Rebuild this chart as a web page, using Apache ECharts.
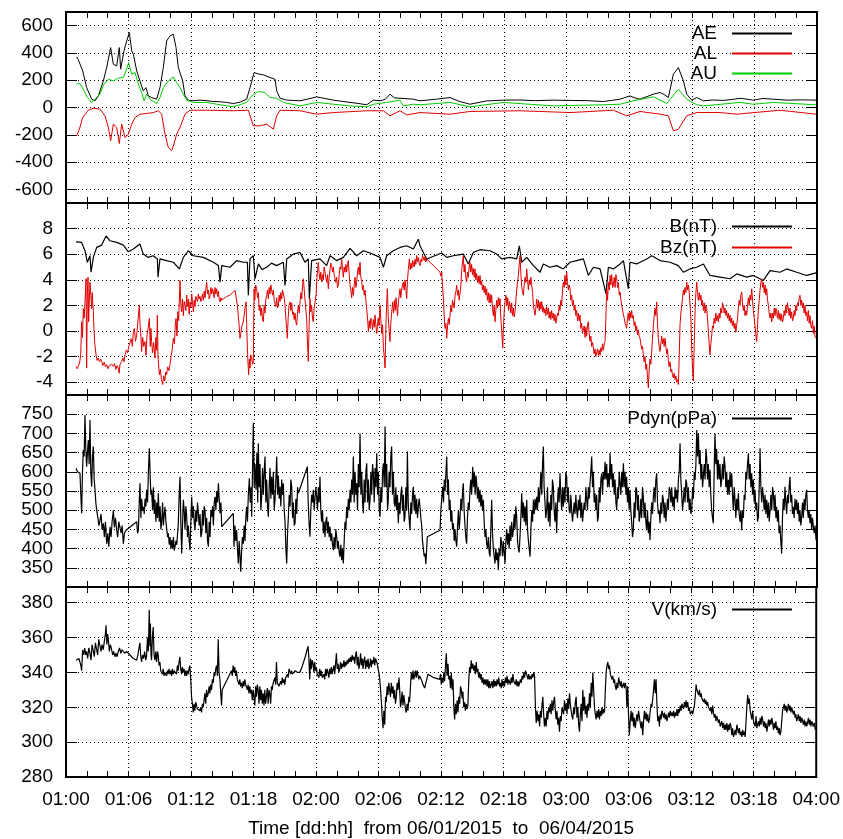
<!DOCTYPE html>
<html><head><meta charset="utf-8">
<script src="https://cdn.jsdelivr.net/npm/echarts@6/dist/echarts.min.js"></script>
<style>html,body{margin:0;padding:0;background:#fff}#c{width:843px;height:839px}</style>
</head><body><div id="c"></div><script>
// time in hours since 06/01/2015 01:00 (dd:hh = 01:00)
const xTickLabels = ['01:00','01:06','01:12','01:18','02:00','02:06','02:12','02:18','03:00','03:06','03:12','03:18','04:00'];
const aeTicks = [-600,-400,-200,0,200,400,600];
const bTicks = [-4,-2,0,2,4,6,8];
const pTicks = [350,400,450,500,550,600,650,700,750];
const vTicks = [280,300,320,340,360,380];

const AE = [[1.02,371],[1.18,350],[1.34,342],[1.60,268],[1.98,146],[2.46,61],[2.78,49],[3.10,85],[3.58,195],[3.90,293],[4.28,439],[4.54,317],[4.86,305],[5.11,439],[5.24,281],[5.56,415],[5.82,488],[6.07,549],[6.30,415],[6.46,390],[6.78,268],[7.09,195],[7.41,122],[7.67,146],[7.89,85],[8.21,73],[8.69,61],[9.01,146],[9.33,293],[9.65,488],[9.97,525],[10.29,537],[10.55,439],[10.77,293],[10.93,281],[11.19,195],[11.41,85],[11.73,54],[12.05,49],[12.85,54],[13.50,50],[14.13,44],[14.80,42],[15.40,37],[16.04,29],[16.70,40],[17.32,61],[17.64,146],[18.03,256],[18.50,245],[18.92,239],[19.56,220],[20.04,207],[20.20,122],[20.52,68],[21.16,54],[21.80,52],[22.44,49],[23.20,62],[24.03,78],[24.67,68],[25.63,54],[26.40,46],[27.23,37],[28.00,30],[28.83,20],[29.47,54],[30.11,49],[30.60,60],[31.06,98],[31.50,70],[32.02,68],[32.70,64],[33.30,61],[33.94,49],[35.40,60],[36.82,73],[37.70,45],[38.73,24],[40.30,48],[41.93,54],[43.50,55],[45.00,50],[46.72,54],[48.30,52],[50.00,50],[51.52,44],[52.30,52],[53.12,61],[54.07,85],[54.55,70],[55.03,61],[55.70,80],[56.31,98],[56.95,110],[57.35,95],[57.75,73],[58.23,244],[58.71,293],[59.19,195],[59.51,98],[59.99,54],[60.47,73],[61.11,49],[62.00,55],[63.00,52],[64.00,60],[64.62,68],[65.90,54],[66.80,66],[67.82,61],[69.09,54],[70.50,56],[71.91,54]];
const AL = [[1.02,-207],[1.28,-159],[1.60,-73],[2.14,-20],[2.62,-5],[3.26,-12],[3.74,-61],[4.06,-146],[4.28,-244],[4.54,-122],[4.86,-146],[5.11,-264],[5.34,-122],[5.66,-220],[5.98,-195],[6.30,-122],[6.62,-73],[7.09,-49],[7.73,-44],[8.37,-37],[8.85,-24],[9.17,-49],[9.49,-195],[9.81,-293],[10.13,-317],[10.35,-268],[10.61,-195],[10.93,-146],[11.41,-49],[11.89,-20],[13.49,-20],[16.04,-24],[17.48,-20],[17.96,-134],[18.60,-134],[19.24,-122],[19.88,-159],[20.20,-61],[20.52,-20],[22.44,-24],[24.03,-49],[25.63,-37],[28.83,-24],[30.43,-24],[31.06,-61],[32.02,-24],[32.66,-54],[33.94,-37],[36.82,-49],[38.73,-29],[43.53,-24],[48.32,-37],[52.48,-20],[53.75,-61],[55.03,-29],[56.95,-49],[57.75,-61],[58.23,-171],[58.71,-159],[59.51,-61],[60.47,-37],[62.70,-37],[64.30,-49],[68.45,-20],[71.91,-49]];
const AU = [[1.02,171],[1.34,176],[1.66,134],[2.05,73],[2.46,37],[2.94,73],[3.26,98],[3.64,171],[4.06,207],[4.54,195],[5.02,215],[5.50,220],[5.75,268],[6.01,329],[6.30,244],[6.62,256],[6.94,171],[7.25,110],[7.48,49],[7.73,98],[8.05,61],[8.69,29],[9.01,73],[9.33,146],[9.81,195],[10.29,224],[10.61,183],[10.93,146],[11.25,98],[11.57,54],[12.21,37],[13.49,37],[14.77,20],[16.04,5],[17.32,37],[17.80,85],[18.44,117],[19.08,110],[19.56,73],[20.20,68],[20.84,37],[22.44,12],[24.03,37],[25.63,24],[27.23,12],[28.83,5],[29.47,24],[30.74,37],[32.02,54],[32.34,12],[33.30,24],[33.94,20],[36.82,37],[38.73,5],[41.93,37],[46.72,12],[51.52,20],[53.12,24],[54.39,49],[56.31,78],[57.59,29],[58.71,134],[59.51,61],[60.47,20],[61.11,12],[64.62,37],[65.90,24],[67.82,37],[71.91,20]];

const B = [[0.96,6.97],[1.50,6.92],[1.82,6.27],[2.05,5.37],[2.30,5.88],[2.40,4.59],[2.62,5.75],[2.94,6.53],[3.42,6.71],[3.84,7.43],[4.22,7.05],[4.86,6.92],[5.50,6.71],[5.98,6.19],[6.46,6.40],[7.09,6.79],[7.41,6.01],[7.89,5.75],[8.37,5.88],[8.76,5.63],[8.82,4.21],[9.01,5.63],[9.65,5.50],[10.29,5.37],[10.87,4.85],[11.25,5.75],[11.73,6.27],[12.21,5.88],[13.17,5.75],[14.13,5.37],[14.61,5.11],[14.77,3.82],[14.93,5.11],[15.72,4.98],[16.36,5.50],[17.00,5.37],[17.39,5.37],[17.48,2.79],[17.64,5.63],[17.96,5.88],[18.12,4.08],[18.44,5.24],[18.80,4.80],[19.24,4.98],[19.70,5.30],[20.20,5.11],[20.84,5.37],[21.00,3.56],[21.16,5.63],[21.80,6.01],[22.44,6.14],[22.91,5.37],[23.23,5.63],[23.33,2.53],[23.55,5.50],[24.35,5.63],[24.99,5.11],[25.31,5.88],[25.95,5.50],[26.59,5.75],[27.23,6.45],[27.87,5.88],[28.51,6.27],[29.15,6.09],[30.11,5.75],[30.43,4.98],[30.74,5.88],[31.38,6.27],[32.02,6.53],[32.66,6.66],[33.30,6.40],[33.78,7.17],[33.94,6.66],[34.42,5.88],[34.58,5.63],[36.02,6.09],[36.50,5.75],[37.14,5.88],[38.09,6.01],[38.57,5.24],[39.05,6.14],[39.69,6.35],[40.65,6.27],[41.29,6.01],[41.77,5.63],[42.57,5.75],[43.21,5.63],[43.46,6.66],[43.69,5.37],[44.17,5.75],[44.81,5.11],[45.45,4.59],[45.76,5.24],[46.40,4.98],[47.04,5.11],[47.68,4.85],[48.32,5.37],[48.96,5.50],[49.60,5.63],[50.08,4.34],[50.56,4.98],[51.20,4.85],[51.77,2.92],[52.00,4.98],[52.48,4.85],[53.12,5.24],[53.44,5.50],[53.91,3.30],[54.07,5.37],[54.71,5.24],[55.67,5.63],[56.15,5.88],[56.95,5.50],[57.91,5.37],[58.71,5.11],[59.19,4.59],[59.83,4.85],[60.47,4.98],[61.11,5.24],[61.74,4.34],[62.70,4.21],[63.66,4.08],[64.30,4.46],[65.26,4.21],[65.90,4.34],[66.86,3.95],[67.50,4.72],[68.45,4.59],[69.09,4.85],[70.05,4.59],[71.01,4.34],[71.91,4.54]];

const BZ = [[0.96,-2.76],[1.08,-2.95],[1.18,-2.89],[1.30,-2.50],[1.41,-1.86],[1.50,0.72],[1.58,-0.50],[1.66,1.75],[1.74,1.00],[1.82,2.27],[1.92,4.08],[1.98,-2.90],[2.05,3.05],[2.11,4.20],[2.17,0.72],[2.24,2.50],[2.30,3.82],[2.38,2.80],[2.46,1.75],[2.52,3.00],[2.56,2.27],[2.62,1.50],[2.68,0.21],[2.76,-1.00],[2.88,-1.86],[2.98,-2.30],[3.10,-2.12],[3.22,-2.40],[3.32,-2.20],[3.42,-2.37],[3.54,-2.70],[3.66,-2.45],[3.78,-2.80],[3.90,-2.63],[4.02,-2.95],[4.14,-2.70],[4.26,-2.85],[4.38,-2.60],[4.54,-2.76],[4.66,-2.55],[4.78,-3.00],[4.90,-2.70],[5.02,-2.89],[5.10,-3.30],[5.18,-2.60],[5.34,-2.37],[5.46,-2.10],[5.56,-2.40],[5.66,-1.86],[5.78,-1.50],[5.90,-1.70],[6.02,-1.20],[6.14,-1.08],[6.26,-0.60],[6.36,-1.20],[6.46,-0.05],[6.56,0.20],[6.66,-0.80],[6.78,-0.31],[6.90,0.80],[7.03,2.01],[7.10,0.50],[7.18,-0.40],[7.25,-1.60],[7.35,-0.50],[7.45,-1.20],[7.57,-0.83],[7.67,-1.90],[7.77,-0.30],[7.89,0.30],[7.99,0.98],[8.08,-1.20],[8.14,0.20],[8.21,-0.83],[8.30,-1.70],[8.40,-0.90],[8.53,-2.12],[8.62,-0.50],[8.70,-1.50],[8.76,1.24],[8.82,-2.00],[8.95,-3.41],[9.05,-3.00],[9.15,-3.80],[9.27,-4.18],[9.37,-3.50],[9.47,-3.90],[9.57,-3.20],[9.65,-3.41],[9.75,-2.80],[9.87,-3.10],[9.97,-2.63],[10.07,-2.00],[10.17,-1.50],[10.29,-0.57],[10.40,-1.00],[10.47,0.40],[10.55,0.98],[10.64,-0.40],[10.72,1.50],[10.80,0.80],[10.87,2.50],[10.93,3.95],[11.01,2.00],[11.09,1.50],[11.17,2.50],[11.25,1.20],[11.33,2.30],[11.41,2.01],[11.49,1.60],[11.57,2.80],[11.65,1.90],[11.73,2.50],[11.81,1.30],[11.89,2.27],[11.97,1.80],[12.05,2.90],[12.13,2.20],[12.21,1.50],[12.29,2.40],[12.37,1.90],[12.45,2.70],[12.53,2.79],[12.61,2.30],[12.69,2.90],[12.77,2.50],[12.85,2.70],[12.93,2.30],[13.01,2.53],[13.09,2.90],[13.17,2.40],[13.25,3.10],[13.33,2.60],[13.41,3.30],[13.49,3.82],[13.57,2.90],[13.65,3.20],[13.73,2.50],[13.81,2.79],[13.89,3.40],[13.97,2.90],[14.05,3.30],[14.13,3.05],[14.21,2.60],[14.29,3.40],[14.37,2.90],[14.45,3.30],[14.53,2.70],[14.61,3.10],[14.69,2.50],[14.77,2.27],[14.85,2.60],[14.93,2.40],[15.08,2.53],[15.40,2.70],[15.72,2.79],[15.96,3.00],[16.20,3.17],[16.32,2.60],[16.43,2.01],[16.52,1.20],[16.60,0.40],[16.68,-0.57],[16.76,-0.20],[16.84,0.30],[17.00,0.72],[17.10,1.40],[17.18,1.90],[17.26,2.27],[17.32,0.50],[17.39,-1.34],[17.45,-2.50],[17.51,-3.41],[17.58,-2.20],[17.64,-2.90],[17.71,-1.86],[17.80,-2.10],[17.89,-2.60],[17.96,-2.37],[18.03,3.30],[18.10,2.40],[18.18,3.60],[18.28,3.30],[18.36,2.60],[18.44,3.00],[18.52,1.60],[18.60,2.01],[18.68,1.20],[18.76,1.80],[18.84,0.90],[18.92,0.72],[19.00,2.00],[19.08,1.40],[19.16,2.50],[19.24,2.79],[19.32,3.20],[19.40,2.50],[19.48,3.40],[19.56,2.90],[19.64,3.60],[19.72,3.56],[19.80,2.80],[19.88,3.20],[19.96,2.40],[20.04,2.53],[20.12,1.90],[20.20,2.60],[20.28,1.80],[20.36,2.01],[20.44,2.80],[20.52,2.30],[20.60,3.00],[20.68,2.50],[20.76,3.20],[20.84,3.30],[20.92,2.60],[21.00,2.01],[21.08,1.00],[21.15,0.20],[21.22,-0.57],[21.30,1.00],[21.38,2.00],[21.48,2.27],[21.56,1.60],[21.64,2.20],[21.72,1.30],[21.80,1.50],[21.88,0.90],[21.96,1.40],[22.04,0.70],[22.12,0.46],[22.20,1.50],[22.28,2.00],[22.36,1.40],[22.44,2.27],[22.52,3.00],[22.60,2.50],[22.68,3.60],[22.76,4.08],[22.84,3.20],[22.92,2.40],[23.00,1.60],[23.07,0.98],[23.15,-0.80],[23.23,-2.37],[23.31,0.50],[23.39,2.53],[23.47,1.50],[23.55,2.00],[23.63,1.00],[23.71,0.72],[23.79,1.80],[23.87,2.20],[23.97,2.79],[24.05,4.00],[24.12,4.80],[24.19,5.37],[24.27,4.50],[24.35,4.00],[24.43,4.60],[24.51,3.82],[24.59,4.40],[24.67,4.00],[24.75,5.00],[24.83,4.85],[24.91,4.20],[24.99,3.80],[25.07,4.40],[25.15,3.30],[25.23,4.20],[25.31,4.80],[25.39,5.30],[25.47,5.11],[25.55,4.60],[25.63,5.00],[25.71,4.40],[25.79,4.34],[25.87,3.80],[25.95,4.20],[26.03,3.40],[26.11,3.56],[26.19,4.40],[26.27,5.00],[26.35,4.80],[26.43,5.63],[26.51,4.80],[26.59,4.20],[26.67,5.00],[26.75,4.59],[26.83,5.20],[26.91,4.60],[26.99,5.20],[27.07,5.50],[27.15,4.40],[27.23,3.60],[27.31,3.20],[27.39,2.60],[27.47,3.40],[27.55,2.79],[27.63,3.60],[27.71,4.20],[27.79,3.40],[27.87,3.82],[27.95,4.60],[28.03,5.00],[28.11,4.40],[28.19,5.37],[28.27,4.20],[28.35,3.90],[28.43,3.20],[28.51,3.56],[28.59,2.80],[28.67,3.20],[28.75,2.40],[28.83,2.53],[28.91,1.00],[28.99,-0.05],[29.07,0.80],[29.15,0.20],[29.23,1.00],[29.31,0.72],[29.39,0.10],[29.47,0.90],[29.55,0.30],[29.63,1.24],[29.71,0.40],[29.79,-0.20],[29.85,-0.31],[29.93,1.00],[30.01,0.40],[30.11,2.01],[30.19,0.80],[30.27,-0.20],[30.35,0.50],[30.43,-1.34],[30.51,-2.00],[30.59,-2.89],[30.67,0.50],[30.74,2.00],[30.81,3.30],[30.89,1.20],[30.97,0.20],[31.06,-0.83],[31.14,0.60],[31.22,1.40],[31.32,2.27],[31.40,1.40],[31.48,2.40],[31.56,1.60],[31.64,2.60],[31.70,2.01],[31.78,1.20],[31.86,2.20],[31.94,2.80],[32.02,3.30],[32.10,2.60],[32.18,3.20],[32.26,3.60],[32.34,3.82],[32.42,3.20],[32.50,4.00],[32.58,3.40],[32.66,2.53],[32.74,4.00],[32.82,4.80],[32.92,5.63],[33.00,4.80],[33.08,5.30],[33.16,4.90],[33.24,5.50],[33.30,5.37],[33.38,5.00],[33.46,5.60],[33.54,5.20],[33.62,5.90],[33.70,5.40],[33.78,5.75],[33.86,5.30],[33.94,5.11],[34.02,5.60],[34.10,5.40],[34.18,5.90],[34.26,5.88],[34.34,5.50],[34.42,5.80],[34.50,5.40],[34.58,5.63],[35.86,4.59],[35.94,4.30],[36.02,4.59],[36.10,3.50],[36.18,2.53],[36.26,1.20],[36.34,0.20],[36.42,0.60],[36.50,-0.57],[36.58,0.40],[36.66,1.00],[36.74,0.50],[36.82,1.24],[36.90,2.00],[36.98,1.50],[37.06,2.40],[37.14,2.27],[37.22,1.80],[37.30,2.80],[37.38,3.10],[37.46,3.56],[37.54,2.80],[37.62,3.20],[37.70,2.40],[37.78,2.53],[37.86,3.60],[37.94,4.80],[38.02,5.40],[38.09,5.88],[38.17,4.60],[38.25,5.20],[38.33,4.20],[38.41,3.82],[38.49,4.60],[38.57,4.20],[38.65,5.00],[38.73,5.37],[38.81,4.60],[38.89,5.20],[38.97,4.40],[39.05,4.90],[39.13,4.20],[39.21,4.85],[39.29,4.00],[39.37,4.50],[39.45,3.80],[39.53,4.30],[39.61,3.70],[39.69,4.34],[39.77,3.60],[39.85,3.90],[39.93,3.20],[40.01,3.60],[40.09,3.00],[40.17,3.50],[40.25,2.80],[40.33,3.30],[40.41,2.40],[40.49,3.00],[40.57,2.20],[40.65,2.90],[40.73,2.20],[40.81,2.79],[40.89,1.80],[40.97,1.20],[41.05,2.00],[41.13,0.72],[41.21,1.60],[41.29,2.40],[41.37,1.80],[41.45,2.60],[41.53,2.00],[41.61,2.53],[41.69,1.00],[41.77,0.00],[41.87,-1.34],[41.95,0.50],[42.03,1.80],[42.11,2.40],[42.19,2.79],[42.27,2.00],[42.35,2.60],[42.43,1.60],[42.51,2.30],[42.57,2.01],[42.65,1.40],[42.73,2.20],[42.81,1.20],[42.89,1.80],[42.97,1.10],[43.05,1.50],[43.13,2.40],[43.21,3.20],[43.29,3.90],[43.37,4.34],[43.45,5.20],[43.53,5.88],[43.61,4.40],[43.69,3.50],[43.77,3.00],[43.85,2.79],[43.93,3.60],[44.01,4.20],[44.09,3.80],[44.17,4.85],[44.25,4.00],[44.33,3.20],[44.41,4.00],[44.49,3.60],[44.57,4.20],[44.65,4.34],[44.73,3.00],[44.81,2.00],[44.89,1.60],[44.97,1.24],[45.05,1.80],[45.13,2.50],[45.21,1.80],[45.29,2.40],[45.37,1.60],[45.45,2.27],[45.53,1.70],[45.61,2.30],[45.69,1.50],[45.76,1.90],[45.84,1.40],[45.92,1.75],[46.00,1.20],[46.08,1.90],[46.16,1.30],[46.24,1.80],[46.32,1.00],[46.40,1.50],[46.48,0.90],[46.56,1.60],[46.64,1.00],[46.72,1.40],[46.80,0.80],[46.88,1.30],[46.96,0.60],[47.04,0.72],[47.12,1.40],[47.20,1.20],[47.28,2.00],[47.36,1.60],[47.44,2.40],[47.52,2.01],[47.60,3.20],[47.68,3.80],[47.76,3.40],[47.84,4.34],[47.92,3.60],[48.00,4.60],[48.08,3.80],[48.16,3.20],[48.24,3.60],[48.32,3.30],[48.40,2.40],[48.48,2.80],[48.56,2.00],[48.64,2.40],[48.72,1.60],[48.80,2.01],[48.88,1.20],[48.96,1.60],[49.04,0.80],[49.12,1.40],[49.20,0.80],[49.28,1.24],[49.36,0.20],[49.44,0.60],[49.52,-0.20],[49.60,-0.31],[49.68,0.40],[49.76,-0.50],[49.84,0.30],[49.92,-0.40],[50.00,0.50],[50.08,0.72],[50.16,-0.20],[50.24,-0.80],[50.32,-0.40],[50.40,-1.20],[50.48,-0.90],[50.56,-1.34],[50.64,-1.80],[50.72,-1.40],[50.80,-2.00],[50.88,-1.86],[50.96,-1.40],[51.04,-1.90],[51.12,-1.50],[51.20,-1.90],[51.28,-1.30],[51.36,-1.60],[51.44,-1.00],[51.52,-1.50],[51.60,-1.00],[51.68,-0.83],[51.76,1.00],[51.84,3.30],[51.92,2.40],[52.00,3.80],[52.08,3.20],[52.16,4.34],[52.24,3.60],[52.32,4.40],[52.40,3.40],[52.48,3.56],[52.56,4.20],[52.64,3.40],[52.72,4.40],[52.80,4.08],[52.88,3.40],[52.96,3.80],[53.04,2.80],[53.12,3.05],[53.20,2.40],[53.28,2.00],[53.36,1.60],[53.44,1.75],[53.52,1.00],[53.60,0.60],[53.68,0.40],[53.75,0.21],[53.83,1.00],[53.91,1.40],[53.99,0.80],[54.07,1.50],[54.15,1.00],[54.23,1.60],[54.31,1.00],[54.39,1.20],[54.47,0.40],[54.55,0.72],[54.63,0.00],[54.71,0.40],[54.79,-0.30],[54.87,0.10],[54.95,-0.40],[55.03,-0.57],[55.11,-1.00],[55.19,-1.40],[55.27,-1.20],[55.35,-1.86],[55.43,-2.40],[55.51,-2.00],[55.59,-3.00],[55.67,-2.60],[55.75,-3.60],[55.83,-4.44],[55.91,-3.00],[55.99,-2.20],[56.07,-2.60],[56.15,-1.60],[56.23,-0.60],[56.31,0.40],[56.39,1.20],[56.47,1.80],[56.55,1.20],[56.63,2.27],[56.71,0.60],[56.79,-0.60],[56.87,-1.20],[56.95,-1.60],[57.03,-1.00],[57.11,-0.40],[57.19,-1.00],[57.27,-0.60],[57.35,-1.20],[57.43,-0.57],[57.51,-1.20],[57.59,-1.80],[57.67,-1.40],[57.75,-2.37],[57.83,-2.80],[57.91,-2.40],[57.99,-3.20],[58.07,-3.00],[58.15,-3.50],[58.23,-3.66],[58.31,-3.30],[58.39,-3.80],[58.47,-3.50],[58.55,-4.00],[58.63,-3.80],[58.71,-4.18],[58.79,-2.00],[58.87,0.50],[58.95,1.40],[59.03,2.01],[59.11,2.60],[59.19,3.20],[59.27,2.80],[59.35,3.40],[59.43,3.00],[59.51,3.82],[59.59,3.20],[59.67,3.60],[59.75,3.00],[59.83,3.05],[59.91,1.00],[59.99,-1.50],[60.07,-3.00],[60.15,-3.92],[60.23,-1.00],[60.31,1.50],[60.39,3.00],[60.47,3.82],[60.55,3.00],[60.63,2.40],[60.71,3.00],[60.79,2.40],[60.87,2.80],[60.95,2.01],[61.03,2.40],[61.11,1.60],[61.19,2.20],[61.27,1.40],[61.35,2.00],[61.42,1.75],[61.50,1.00],[61.58,0.00],[61.66,-1.00],[61.74,-1.86],[61.82,-1.00],[61.90,-0.40],[61.98,0.40],[62.06,0.21],[62.14,1.00],[62.22,0.60],[62.30,1.40],[62.38,0.80],[62.46,1.20],[62.54,0.72],[62.62,1.40],[62.70,1.00],[62.78,1.80],[62.86,1.40],[62.94,2.20],[63.02,2.01],[63.10,1.40],[63.18,1.80],[63.26,1.20],[63.34,1.60],[63.42,1.00],[63.50,1.40],[63.58,0.80],[63.66,1.24],[63.74,0.60],[63.82,1.00],[63.90,0.40],[63.98,0.80],[64.06,0.20],[64.14,0.60],[64.22,-0.10],[64.30,-0.05],[64.38,1.00],[64.46,1.80],[64.54,2.40],[64.62,2.00],[64.70,2.80],[64.78,3.05],[64.86,2.20],[64.94,1.60],[65.02,2.00],[65.10,1.20],[65.18,1.60],[65.26,1.24],[65.34,2.00],[65.42,2.60],[65.50,2.00],[65.58,2.80],[65.66,2.40],[65.74,3.30],[65.82,2.40],[65.90,1.60],[65.98,1.00],[66.06,0.40],[66.14,-0.40],[66.22,-0.83],[66.30,0.50],[66.38,1.60],[66.46,2.40],[66.54,3.20],[66.62,3.80],[66.70,4.08],[66.78,3.40],[66.86,3.80],[66.94,3.00],[67.02,3.60],[67.10,2.80],[67.18,3.30],[67.26,2.40],[67.34,2.00],[67.42,1.40],[67.50,1.00],[67.58,1.40],[67.66,0.72],[67.74,1.40],[67.82,1.00],[67.90,1.80],[67.98,1.20],[68.06,1.80],[68.13,1.50],[68.21,1.00],[68.29,1.60],[68.37,0.90],[68.45,1.40],[68.53,0.80],[68.61,1.30],[68.69,0.70],[68.77,0.98],[68.85,1.60],[68.93,1.20],[69.01,2.00],[69.09,1.40],[69.17,2.20],[69.25,1.75],[69.33,1.20],[69.41,1.80],[69.49,1.00],[69.57,1.50],[69.65,0.80],[69.73,0.98],[69.81,1.60],[69.89,1.20],[69.97,2.00],[70.05,1.60],[70.13,2.20],[70.21,2.00],[70.29,2.60],[70.37,2.79],[70.45,2.00],[70.53,2.40],[70.61,1.80],[70.69,2.20],[70.77,1.40],[70.85,2.00],[70.93,1.20],[71.01,1.50],[71.09,0.80],[71.17,1.60],[71.25,0.60],[71.33,1.20],[71.41,0.40],[71.49,0.21],[71.57,0.80],[71.65,-0.20],[71.73,0.40],[71.81,-0.40],[71.91,-0.57]];

const PDYN = [[0.96,609],[1.10,600],[1.25,598],[1.34,596],[1.42,540],[1.50,492],[1.58,600],[1.66,657],[1.74,640],[1.82,748],[1.90,660],[1.98,613],[2.06,650],[2.14,683],[2.22,620],[2.30,735],[2.38,600],[2.46,561],[2.54,640],[2.62,666],[2.70,580],[2.78,553],[2.86,520],[2.94,500],[3.06,480],[3.16,460],[3.26,474],[3.36,490],[3.46,450],[3.58,466],[3.68,430],[3.78,470],[3.90,413],[4.00,440],[4.10,405],[4.22,457],[4.32,430],[4.42,470],[4.54,500],[4.64,455],[4.74,480],[4.86,448],[4.96,430],[5.06,470],[5.18,474],[5.28,440],[5.38,460],[5.50,413],[5.60,440],[5.75,448],[6.78,470],[6.86,440],[6.94,448],[7.02,520],[7.09,570],[7.18,480],[7.26,530],[7.34,500],[7.41,509],[7.50,490],[7.58,530],[7.66,510],[7.73,553],[7.82,520],[7.90,600],[7.99,661],[8.08,580],[8.14,540],[8.21,553],[8.30,500],[8.38,560],[8.46,490],[8.53,527],[8.62,470],[8.70,520],[8.78,480],[8.85,544],[8.94,470],[9.02,510],[9.10,450],[9.17,466],[9.26,520],[9.34,460],[9.42,490],[9.49,509],[9.58,470],[9.66,450],[9.74,430],[9.81,440],[9.90,410],[9.98,430],[10.06,400],[10.13,422],[10.22,400],[10.30,430],[10.38,395],[10.45,405],[10.54,420],[10.62,410],[10.70,440],[10.77,466],[10.85,540],[10.93,587],[11.01,470],[11.09,387],[11.17,460],[11.25,527],[11.33,500],[11.41,450],[11.49,510],[11.57,483],[11.65,430],[11.73,460],[11.81,420],[11.89,396],[11.97,470],[12.05,535],[12.13,480],[12.21,510],[12.29,470],[12.37,448],[12.45,500],[12.53,470],[12.61,520],[12.69,518],[12.77,460],[12.85,490],[12.93,430],[13.01,440],[13.09,500],[13.17,460],[13.25,510],[13.33,500],[13.41,440],[13.49,480],[13.57,420],[13.65,405],[13.73,470],[13.81,430],[13.89,500],[13.97,483],[14.05,510],[14.13,460],[14.21,520],[14.29,535],[14.37,500],[14.45,550],[14.53,520],[14.61,570],[14.69,530],[14.77,492],[14.85,520],[14.93,457],[16.04,492],[16.11,405],[16.20,460],[16.28,420],[16.36,448],[16.44,400],[16.52,361],[16.60,420],[16.68,380],[16.75,340],[16.83,390],[16.91,430],[17.00,413],[17.08,460],[17.16,420],[17.24,480],[17.32,509],[17.40,470],[17.48,540],[17.58,583],[17.66,520],[17.74,560],[17.80,483],[17.88,600],[17.96,727],[18.04,560],[18.12,620],[18.22,553],[18.30,650],[18.38,520],[18.44,674],[18.52,560],[18.60,620],[18.68,500],[18.76,535],[18.84,610],[18.92,540],[19.00,600],[19.08,640],[19.16,520],[19.24,580],[19.32,510],[19.40,483],[19.48,560],[19.56,610],[19.64,530],[19.72,587],[19.80,540],[19.88,600],[19.96,500],[20.04,527],[20.12,580],[20.20,640],[20.28,540],[20.36,590],[20.44,530],[20.52,561],[20.60,510],[20.68,580],[20.76,540],[20.84,570],[20.92,500],[21.00,470],[21.08,400],[21.16,361],[21.24,440],[21.32,483],[21.40,540],[21.48,510],[21.56,580],[21.64,561],[21.72,480],[21.80,520],[21.88,460],[21.96,466],[22.04,530],[22.12,490],[22.20,560],[22.28,544],[23.14,613],[23.22,520],[23.30,470],[23.39,431],[23.47,500],[23.55,540],[23.63,520],[23.71,553],[23.79,500],[23.87,530],[23.95,560],[24.03,535],[24.11,500],[24.19,560],[24.27,520],[24.35,587],[24.43,500],[24.51,470],[24.59,500],[24.67,440],[24.75,470],[24.83,430],[24.91,470],[24.99,483],[25.07,440],[25.15,470],[25.23,430],[25.31,457],[25.39,420],[25.47,440],[25.55,410],[25.63,396],[25.71,430],[25.79,400],[25.87,450],[25.95,431],[26.03,400],[26.11,420],[26.19,390],[26.27,379],[26.35,410],[26.43,370],[26.51,400],[26.59,361],[26.67,420],[26.75,470],[26.83,450],[26.91,509],[26.99,480],[27.07,530],[27.15,500],[27.23,553],[27.31,520],[27.39,580],[27.47,540],[27.55,640],[27.63,520],[27.71,600],[27.79,540],[27.87,570],[27.95,500],[28.03,620],[28.11,560],[28.19,700],[28.27,540],[28.35,600],[28.43,520],[28.51,492],[28.59,580],[28.67,520],[28.75,600],[28.83,622],[28.91,520],[28.99,580],[29.07,500],[29.15,527],[29.23,600],[29.31,540],[29.39,620],[29.47,596],[29.55,520],[29.63,610],[29.71,560],[29.79,648],[29.87,540],[29.95,600],[30.03,500],[30.11,483],[30.19,560],[30.27,520],[30.35,600],[30.43,622],[30.51,560],[30.59,718],[30.67,560],[30.75,620],[30.83,500],[30.90,527],[30.98,600],[31.06,560],[31.14,640],[31.22,666],[31.30,540],[31.38,600],[31.46,520],[31.54,509],[31.62,560],[31.70,500],[31.78,540],[31.86,466],[31.94,520],[32.02,490],[32.10,540],[32.18,561],[32.26,500],[32.34,540],[32.42,470],[32.50,483],[32.58,560],[32.66,500],[32.73,653],[32.81,520],[32.89,480],[32.98,448],[33.06,520],[33.14,490],[33.22,540],[33.30,561],[33.38,500],[33.46,540],[33.54,490],[33.62,530],[33.70,480],[33.78,509],[33.86,530],[33.94,509],[34.02,480],[34.10,460],[34.18,420],[34.26,400],[34.34,380],[34.42,387],[34.50,360],[34.58,400],[34.64,431],[35.86,448],[35.94,500],[36.02,530],[36.11,561],[36.19,520],[36.27,580],[36.35,550],[36.43,600],[36.50,640],[36.58,540],[36.66,580],[36.74,500],[36.82,527],[36.90,470],[36.98,500],[37.06,450],[37.14,466],[37.22,420],[37.30,450],[37.38,420],[37.46,405],[37.54,460],[37.62,500],[37.70,450],[37.78,483],[37.86,530],[37.94,500],[38.02,550],[38.09,570],[38.17,500],[38.25,460],[38.33,430],[38.41,413],[38.49,480],[38.57,520],[38.65,500],[38.73,553],[38.81,580],[38.89,540],[38.99,613],[39.07,560],[39.15,600],[39.23,540],[39.31,590],[39.37,570],[39.45,530],[39.53,560],[39.61,520],[39.69,553],[39.77,510],[39.85,540],[39.93,500],[40.01,527],[40.09,470],[40.17,430],[40.25,450],[40.33,413],[40.41,400],[40.49,430],[40.57,390],[40.65,379],[40.73,450],[40.81,527],[40.89,440],[40.97,400],[41.05,380],[41.13,361],[41.21,400],[41.29,370],[41.37,390],[41.45,344],[41.53,400],[41.61,380],[41.69,430],[41.77,413],[41.85,380],[41.93,420],[42.01,390],[42.09,361],[42.17,420],[42.25,450],[42.33,410],[42.41,440],[42.49,400],[42.57,460],[42.65,420],[42.73,470],[42.81,430],[42.89,448],[42.97,490],[43.05,450],[43.13,510],[43.21,483],[43.29,420],[43.37,400],[43.45,390],[43.53,387],[43.61,480],[43.69,544],[43.77,480],[43.85,520],[43.93,470],[44.01,510],[44.09,460],[44.17,527],[44.25,450],[44.33,420],[44.41,400],[44.49,379],[44.57,450],[44.65,500],[44.73,470],[44.81,527],[44.89,490],[44.97,530],[45.05,500],[45.13,535],[45.21,500],[45.29,560],[45.37,520],[45.45,553],[45.53,600],[45.61,540],[45.69,620],[45.76,666],[45.84,560],[45.92,520],[46.00,480],[46.08,500],[46.16,560],[46.24,470],[46.32,520],[46.40,457],[46.48,540],[46.56,500],[46.64,580],[46.72,561],[46.80,500],[46.88,470],[46.96,520],[47.04,440],[47.12,520],[47.20,560],[47.28,520],[47.36,596],[47.44,540],[47.52,500],[47.60,560],[47.68,509],[47.76,560],[47.84,520],[47.92,600],[48.00,587],[48.08,520],[48.16,560],[48.24,500],[48.32,492],[48.40,540],[48.48,500],[48.56,470],[48.64,474],[48.72,520],[48.80,490],[48.88,540],[48.96,500],[49.04,480],[49.12,527],[49.20,500],[49.28,540],[49.36,480],[49.44,520],[49.52,470],[49.60,466],[49.68,520],[49.76,500],[49.84,560],[49.92,527],[50.00,500],[50.08,560],[50.16,530],[50.24,570],[50.32,600],[50.40,640],[50.48,560],[50.56,600],[50.64,520],[50.72,544],[50.80,500],[50.88,540],[50.96,470],[51.04,483],[51.12,560],[51.20,520],[51.28,580],[51.36,596],[51.44,540],[51.52,600],[51.60,580],[51.68,626],[51.76,580],[51.84,620],[51.92,560],[52.00,596],[52.08,560],[52.16,648],[52.24,580],[52.32,620],[52.40,560],[52.48,596],[52.56,540],[52.64,580],[52.72,520],[52.80,500],[52.88,560],[52.96,530],[53.04,600],[53.12,570],[53.20,540],[53.28,600],[53.36,560],[53.44,622],[53.52,560],[53.60,600],[53.68,540],[53.75,587],[53.83,520],[53.91,560],[53.99,500],[54.07,553],[54.15,500],[54.23,470],[54.31,430],[54.39,448],[54.47,520],[54.55,480],[54.63,560],[54.71,553],[54.79,500],[54.87,540],[54.95,470],[55.03,483],[55.11,530],[55.19,480],[55.27,560],[55.35,535],[55.43,480],[55.51,520],[55.59,470],[55.67,448],[55.75,500],[55.83,440],[55.91,470],[55.99,422],[56.07,480],[56.15,520],[56.23,490],[56.31,535],[56.39,560],[56.47,520],[56.55,580],[56.63,596],[56.71,520],[56.79,490],[56.87,500],[56.95,466],[57.03,520],[57.11,490],[57.19,540],[57.27,527],[57.35,480],[57.43,520],[57.51,470],[57.59,474],[57.67,530],[57.75,500],[57.83,560],[57.91,553],[57.99,520],[58.07,560],[58.15,510],[58.23,535],[58.31,500],[58.39,560],[58.47,530],[58.55,553],[58.63,520],[58.71,580],[58.79,600],[58.87,674],[58.95,580],[59.03,540],[59.11,500],[59.19,527],[59.27,560],[59.35,520],[59.43,580],[59.51,570],[59.59,520],[59.67,560],[59.75,500],[59.83,530],[59.91,490],[59.99,500],[60.07,560],[60.15,530],[60.23,600],[60.31,579],[60.39,620],[60.47,709],[60.55,640],[60.63,700],[60.71,620],[60.79,657],[60.87,580],[60.95,620],[61.03,560],[61.11,561],[61.19,620],[61.27,580],[61.35,660],[61.42,640],[61.50,580],[61.58,620],[61.66,560],[61.74,605],[61.82,540],[61.90,500],[61.98,480],[62.06,466],[62.14,600],[62.22,700],[62.30,620],[62.38,660],[62.46,580],[62.54,631],[62.62,580],[62.70,620],[62.78,560],[62.86,579],[62.94,620],[63.02,580],[63.10,640],[63.18,614],[63.26,560],[63.34,600],[63.42,540],[63.50,579],[63.58,540],[63.66,600],[63.74,560],[63.82,596],[63.90,540],[63.98,500],[64.06,560],[64.14,527],[64.22,480],[64.30,530],[64.38,500],[64.46,544],[64.54,490],[64.62,470],[64.70,500],[64.78,448],[64.86,500],[64.94,480],[65.02,540],[65.10,527],[65.18,600],[65.26,580],[65.34,620],[65.42,648],[65.50,580],[65.58,620],[65.66,560],[65.74,596],[65.82,540],[65.90,580],[65.98,520],[66.06,553],[66.14,500],[66.22,520],[66.30,470],[66.38,483],[66.46,560],[66.54,661],[66.62,560],[66.70,520],[66.78,560],[66.86,535],[66.94,500],[67.02,540],[67.10,490],[67.18,527],[67.26,480],[67.34,520],[67.42,470],[67.50,500],[67.58,540],[67.66,500],[67.74,560],[67.82,544],[67.90,500],[67.98,540],[68.06,480],[68.13,509],[68.21,470],[68.29,500],[68.37,440],[68.45,460],[68.53,420],[68.61,387],[68.69,480],[68.77,530],[68.85,500],[68.93,561],[69.01,520],[69.09,490],[69.17,540],[69.25,518],[69.33,560],[69.41,587],[69.49,520],[69.57,540],[69.65,490],[69.73,509],[69.81,480],[69.89,530],[69.97,500],[70.05,527],[70.13,490],[70.21,520],[70.29,470],[70.37,500],[70.45,460],[70.53,483],[70.61,520],[70.69,480],[70.77,530],[70.85,500],[70.93,540],[71.01,553],[71.09,500],[71.17,480],[71.25,500],[71.33,466],[71.41,490],[71.49,450],[71.57,480],[71.65,457],[71.73,440],[71.81,460],[71.91,422]];

const VSW = [[0.96,347],[1.10,346],[1.24,348],[1.34,347],[1.42,344],[1.50,341],[1.60,353],[1.70,350],[1.80,354],[1.90,350],[1.98,352],[2.08,348],[2.18,354],[2.30,351],[2.40,347],[2.50,356],[2.62,355],[2.72,349],[2.82,357],[2.94,356],[3.04,350],[3.14,359],[3.26,358],[3.36,352],[3.46,356],[3.58,353],[3.68,358],[3.78,362],[3.84,367],[3.92,356],[4.00,362],[4.06,359],[4.16,352],[4.26,356],[4.38,353],[4.48,350],[4.58,352],[4.70,349],[4.80,351],[4.90,349],[5.02,352],[5.14,354],[5.26,351],[5.38,353],[5.50,352],[5.62,351],[5.82,352],[6.00,351],[6.14,350],[6.30,349],[6.46,348],[6.62,347],[6.78,347],[6.90,350],[7.00,354],[7.09,357],[7.18,349],[7.25,346],[7.35,350],[7.45,348],[7.55,352],[7.65,347],[7.73,349],[7.82,360],[7.90,352],[7.99,376],[8.05,355],[8.10,368],[8.16,350],[8.21,347],[8.29,360],[8.37,366],[8.45,350],[8.53,347],[8.62,352],[8.70,346],[8.78,352],[8.85,350],[8.93,344],[9.01,346],[9.09,341],[9.17,342],[9.25,339],[9.33,342],[9.41,338],[9.49,340],[9.57,341],[9.65,338],[9.73,341],[9.81,339],[9.89,342],[9.97,339],[10.05,341],[10.13,338],[10.21,342],[10.29,339],[10.37,341],[10.45,340],[10.53,342],[10.61,339],[10.69,344],[10.77,341],[10.85,346],[10.93,349],[11.01,342],[11.09,339],[11.17,343],[11.25,340],[11.33,342],[11.41,338],[11.49,341],[11.57,338],[11.65,341],[11.73,339],[11.81,342],[11.89,344],[11.97,336],[12.05,326],[12.13,322],[12.21,317],[12.29,322],[12.37,318],[12.45,323],[12.53,321],[12.61,319],[12.69,320],[12.77,318],[12.85,318],[12.93,320],[13.01,317],[13.09,322],[13.17,320],[13.25,324],[13.33,328],[13.41,322],[13.49,330],[13.57,326],[13.65,328],[13.73,332],[13.81,328],[13.89,333],[13.97,330],[14.05,336],[14.13,334],[14.21,340],[14.29,338],[14.37,342],[14.45,344],[14.53,338],[14.61,359],[14.69,340],[14.77,336],[14.85,328],[14.93,321],[14.99,330],[15.88,341],[15.96,338],[16.04,344],[16.12,340],[16.20,343],[16.28,338],[16.36,341],[16.44,336],[16.52,336],[16.60,333],[16.68,336],[16.76,332],[16.84,334],[16.92,331],[17.00,335],[17.08,332],[17.16,336],[17.24,333],[17.32,334],[17.40,330],[17.48,333],[17.56,328],[17.64,332],[17.72,328],[17.80,330],[17.88,324],[17.96,330],[18.04,326],[18.12,321],[18.20,332],[18.28,326],[18.36,333],[18.44,330],[18.52,322],[18.60,332],[18.68,324],[18.76,330],[18.84,322],[18.92,328],[19.00,321],[19.08,330],[19.16,322],[19.24,323],[19.32,331],[19.40,322],[19.48,330],[19.56,328],[19.64,322],[19.72,332],[19.80,330],[19.88,334],[19.96,333],[20.04,337],[20.12,333],[20.20,346],[20.28,334],[20.36,335],[20.44,332],[20.52,332],[20.60,335],[20.68,333],[20.76,337],[20.84,334],[20.92,336],[21.00,333],[21.08,337],[21.16,336],[21.24,339],[21.32,337],[21.40,342],[21.48,343],[21.56,339],[21.64,341],[21.72,339],[21.80,340],[22.00,341],[22.20,340],[22.44,340],[22.70,344],[22.96,349],[23.23,355],[23.31,348],[23.39,336],[23.47,348],[23.55,342],[23.63,347],[23.71,345],[23.79,340],[23.87,346],[23.95,341],[24.03,343],[24.11,339],[24.19,340],[24.27,337],[24.35,342],[24.43,338],[24.51,341],[24.59,337],[24.67,336],[24.75,339],[24.83,336],[24.91,342],[24.99,338],[25.07,342],[25.15,340],[25.23,337],[25.31,342],[25.39,339],[25.47,343],[25.55,339],[25.63,340],[25.71,344],[25.79,339],[25.87,345],[25.95,351],[26.03,342],[26.11,345],[26.19,340],[26.27,342],[26.35,346],[26.43,342],[26.51,345],[26.59,343],[26.67,347],[26.75,343],[26.83,346],[26.91,344],[26.99,347],[27.07,345],[27.15,348],[27.23,346],[27.31,349],[27.39,346],[27.47,350],[27.55,347],[27.63,349],[27.71,345],[27.79,350],[27.87,352],[27.95,344],[28.03,349],[28.11,342],[28.19,345],[28.27,351],[28.35,344],[28.43,348],[28.51,342],[28.59,347],[28.67,349],[28.75,342],[28.83,347],[28.91,343],[28.99,348],[29.07,342],[29.15,344],[29.23,348],[29.31,343],[29.39,347],[29.47,345],[29.55,349],[29.63,344],[29.71,348],[29.79,347],[29.87,345],[29.95,342],[30.03,340],[30.11,336],[30.19,330],[30.27,323],[30.35,314],[30.43,308],[30.51,318],[30.59,310],[30.67,326],[30.74,323],[30.82,332],[30.90,327],[30.98,334],[31.06,330],[31.14,326],[31.22,334],[31.30,328],[31.38,332],[31.46,325],[31.54,330],[31.62,322],[31.70,326],[31.78,334],[31.86,330],[31.96,337],[32.04,328],[32.10,320],[32.18,323],[32.26,329],[32.34,321],[32.42,327],[32.50,323],[32.58,319],[32.66,317],[32.74,322],[32.82,318],[32.90,326],[32.98,323],[33.06,332],[33.14,340],[33.22,336],[33.30,341],[33.38,336],[33.46,338],[33.54,341],[33.62,337],[33.70,341],[33.78,342],[33.86,336],[33.94,338],[34.10,336],[34.26,333],[34.42,331],[34.58,330],[34.74,339],[35.30,337],[35.86,336],[35.94,339],[36.02,333],[36.10,337],[36.18,334],[36.26,340],[36.34,335],[36.42,344],[36.50,351],[36.58,338],[36.66,345],[36.74,336],[36.82,338],[36.90,331],[36.98,340],[37.06,330],[37.14,336],[37.22,320],[37.30,313],[37.38,322],[37.46,316],[37.54,324],[37.62,317],[37.70,326],[37.78,322],[37.86,332],[37.94,330],[38.02,325],[38.09,329],[38.17,320],[38.25,323],[38.33,318],[38.41,322],[38.49,319],[38.57,321],[38.65,335],[38.73,343],[38.81,340],[38.89,347],[38.97,342],[39.05,345],[39.13,341],[39.21,344],[39.29,339],[39.37,346],[39.45,340],[39.53,342],[39.61,337],[39.69,340],[39.77,336],[39.85,339],[39.93,334],[40.01,337],[40.09,333],[40.17,336],[40.25,333],[40.33,336],[40.41,332],[40.49,336],[40.57,331],[40.65,335],[40.73,331],[40.81,332],[40.89,335],[40.97,331],[41.05,336],[41.13,332],[41.21,335],[41.29,332],[41.37,336],[41.45,333],[41.53,337],[41.61,332],[41.69,334],[41.77,331],[41.85,336],[41.93,332],[42.01,335],[42.09,332],[42.17,337],[42.25,334],[42.33,338],[42.41,333],[42.49,336],[42.57,336],[42.65,333],[42.73,337],[42.81,334],[42.89,339],[42.97,335],[43.05,336],[43.13,333],[43.21,336],[43.29,332],[43.37,335],[43.45,332],[43.53,332],[43.61,336],[43.69,334],[43.77,338],[43.85,336],[43.93,340],[44.01,337],[44.09,341],[44.17,342],[44.25,338],[44.33,336],[44.41,339],[44.49,336],[44.57,338],[44.65,336],[44.73,339],[44.81,337],[44.89,340],[44.97,338],[45.05,320],[45.13,311],[45.21,318],[45.29,312],[45.37,316],[45.45,309],[45.53,318],[45.61,314],[45.69,322],[45.76,326],[45.84,316],[45.92,309],[46.00,314],[46.08,309],[46.16,318],[46.24,313],[46.32,320],[46.40,317],[46.48,322],[46.56,316],[46.64,324],[46.72,318],[46.80,323],[46.88,326],[46.96,318],[47.04,313],[47.12,318],[47.20,310],[47.28,314],[47.36,306],[47.44,315],[47.52,312],[47.60,320],[47.68,321],[47.76,316],[47.84,324],[47.92,318],[48.00,322],[48.08,316],[48.16,325],[48.24,319],[48.32,328],[48.40,322],[48.48,318],[48.56,315],[48.64,313],[48.72,320],[48.80,316],[48.88,323],[48.96,326],[49.04,314],[49.12,320],[49.20,310],[49.28,306],[49.36,316],[49.44,322],[49.52,312],[49.60,330],[49.68,318],[49.76,326],[49.84,316],[49.92,321],[50.00,314],[50.08,322],[50.16,318],[50.24,328],[50.32,320],[50.40,334],[50.48,326],[50.56,340],[50.64,330],[50.72,320],[50.80,316],[50.88,313],[50.96,318],[51.04,314],[51.12,319],[51.20,313],[51.28,318],[51.36,315],[51.44,320],[51.52,316],[51.60,319],[51.68,317],[51.76,330],[51.84,340],[51.92,344],[52.00,346],[52.08,342],[52.16,344],[52.24,339],[52.32,340],[52.40,336],[52.48,338],[52.56,334],[52.64,336],[52.72,332],[52.80,330],[52.88,334],[52.96,331],[53.04,337],[53.12,336],[53.20,332],[53.28,335],[53.36,331],[53.44,330],[53.52,334],[53.60,331],[53.68,334],[53.75,332],[53.83,320],[53.91,332],[53.99,315],[54.07,304],[54.15,312],[54.23,318],[54.31,312],[54.39,317],[54.47,309],[54.55,314],[54.63,308],[54.71,309],[54.79,316],[54.87,312],[54.95,318],[55.03,317],[55.11,311],[55.19,308],[55.27,312],[55.35,304],[55.43,312],[55.51,318],[55.59,313],[55.67,317],[55.75,312],[55.83,316],[55.91,311],[55.99,313],[56.07,318],[56.15,322],[56.23,320],[56.31,325],[56.39,330],[56.47,336],[56.55,328],[56.63,336],[56.71,322],[56.79,312],[56.87,315],[56.95,309],[57.03,316],[57.11,313],[57.19,318],[57.27,317],[57.35,314],[57.43,317],[57.51,313],[57.59,316],[57.67,312],[57.75,313],[57.83,317],[57.91,314],[57.99,318],[58.07,315],[58.15,317],[58.23,315],[58.31,318],[58.39,314],[58.47,317],[58.55,315],[58.63,319],[58.71,315],[58.79,319],[58.87,317],[58.95,321],[59.03,318],[59.11,322],[59.19,321],[59.27,319],[59.35,323],[59.43,320],[59.51,324],[59.59,320],[59.67,323],[59.75,318],[59.83,320],[59.91,316],[59.99,315],[60.07,318],[60.15,316],[60.23,319],[60.31,321],[60.39,326],[60.47,333],[60.55,330],[60.63,331],[60.71,327],[60.79,330],[60.87,326],[60.95,328],[61.03,325],[61.11,326],[61.19,323],[61.27,325],[61.35,322],[61.42,324],[61.50,321],[61.58,323],[61.66,320],[61.74,321],[61.82,318],[61.90,320],[61.98,316],[62.06,321],[62.14,317],[62.22,314],[62.30,316],[62.38,312],[62.46,315],[62.54,315],[62.62,311],[62.70,313],[62.78,309],[62.86,309],[62.94,312],[63.02,308],[63.10,311],[63.18,307],[63.26,310],[63.34,307],[63.42,311],[63.50,306],[63.58,310],[63.66,307],[63.74,311],[63.82,309],[63.90,304],[63.98,308],[64.06,303],[64.14,302],[64.22,307],[64.30,304],[64.38,310],[64.46,309],[64.54,305],[64.62,308],[64.70,304],[64.78,306],[64.86,303],[64.94,307],[65.02,304],[65.10,306],[65.18,303],[65.26,304],[65.34,320],[65.42,327],[65.50,322],[65.58,325],[65.66,318],[65.74,319],[65.82,313],[65.90,318],[65.98,312],[66.06,313],[66.14,309],[66.22,315],[66.30,308],[66.38,307],[66.46,312],[66.54,309],[66.62,314],[66.70,310],[66.78,315],[66.86,313],[66.94,309],[67.02,312],[67.10,308],[67.18,311],[67.26,306],[67.34,309],[67.42,313],[67.50,309],[67.58,313],[67.66,310],[67.74,314],[67.82,311],[67.90,307],[67.98,311],[68.06,308],[68.13,312],[68.21,307],[68.29,309],[68.37,305],[68.45,308],[68.53,304],[68.61,306],[68.69,312],[68.77,318],[68.85,320],[68.93,322],[69.01,318],[69.09,321],[69.17,317],[69.25,319],[69.33,322],[69.41,318],[69.49,321],[69.57,317],[69.65,320],[69.73,320],[69.81,316],[69.89,318],[69.97,314],[70.05,316],[70.13,312],[70.21,313],[70.29,316],[70.37,312],[70.45,315],[70.53,311],[70.61,314],[70.69,313],[70.77,310],[70.85,313],[70.93,309],[71.01,312],[71.09,309],[71.17,311],[71.25,314],[71.33,310],[71.41,313],[71.49,309],[71.57,312],[71.65,313],[71.73,309],[71.81,311],[71.91,307]];

const xTitle = 'Time [dd:hh]  from 06/01/2015  to  06/04/2015';

const FONT = '"Liberation Sans", Arial, Helvetica, sans-serif';
const FS = 19;
const panels = [
  {top:12, height:191, min:-700, max:700, ticks:aeTicks},
  {top:203, height:192, min:-5, max:10, ticks:bTicks},
  {top:395, height:192, min:300, max:800, ticks:pTicks},
  {top:587, height:191, min:280, max:389, ticks:vTicks}
];
const seriesDefs = [
  {name:'AE', data:AE, panel:0, color:'#000000', width:1, legendY:33},
  {name:'AL', data:AL, panel:0, color:'#e00000', width:1, legendY:53},
  {name:'AU', data:AU, panel:0, color:'#00cc00', width:1, legendY:73},
  {name:'B(nT)', data:B, panel:1, color:'#000000', width:1.2, legendY:226},
  {name:'Bz(nT)', data:BZ, panel:1, color:'#e00000', width:1, legendY:247},
  {name:'Pdyn(pPa)', data:PDYN, panel:2, color:'#000000', width:1.2, legendY:418},
  {name:'V(km/s)', data:VSW, panel:3, color:'#000000', width:1.2, legendY:609}
];

const grid = [], xAxis = [], yAxis = [];
const dotted = {color:'#000', width:1, type:[1,3]};
panels.forEach((p, i) => {
  const last = i === panels.length - 1;
  grid.push({left:66, right:26, top:p.top, height:p.height, show:true, borderColor:'#000', borderWidth:2, backgroundColor:'transparent', containLabel:false});
  xAxis.push({
    type:'value', gridIndex:i, position:'bottom', min:0, max:72, interval:6,
    axisLine:{show:false, onZero:false},
    axisTick:{show:true, inside:true, length:6, lineStyle:{color:'#000', width:1}},
    minorTick:{show:true, splitNumber:3, length:6, lineStyle:{color:'#000', width:1}},
    splitLine:{show:true, lineStyle:dotted},
    axisLabel:{show:last, margin:13, color:'#000', fontFamily:FONT, fontSize:FS,
      formatter:v => xTickLabels[Math.round(v/6)]},
    name: last ? xTitle : '', nameLocation:'middle', nameGap:42,
    nameTextStyle:{color:'#000', fontFamily:FONT, fontSize:FS}
  });
  xAxis.push({
    type:'value', gridIndex:i, position:'top', min:0, max:72, interval:6,
    axisLine:{show:false, onZero:false},
    axisTick:{show:true, inside:true, length:6, lineStyle:{color:'#000', width:1}},
    minorTick:{show:true, splitNumber:3, length:6, lineStyle:{color:'#000', width:1}},
    splitLine:{show:false}, axisLabel:{show:false}
  });
  yAxis.push({
    type:'value', gridIndex:i, position:'left', min:p.min, max:p.max,
    axisLine:{show:false, onZero:false},
    axisTick:{show:true, inside:true, length:11, customValues:p.ticks, lineStyle:{color:'#000', width:1}},
    splitLine:{show:true, lineStyle:dotted},
    axisLabel:{show:true, customValues:p.ticks, margin:13, color:'#000', fontFamily:FONT, fontSize:FS}
  });
  yAxis.push({
    type:'value', gridIndex:i, position:'right', min:p.min, max:p.max,
    axisLine:{show:false, onZero:false},
    axisTick:{show:true, inside:true, length:11, customValues:p.ticks, lineStyle:{color:'#000', width:1}},
    splitLine:{show:false}, axisLabel:{show:false}
  });
});

const series = seriesDefs.map(s => ({
  type:'line', name:s.name, data:s.data, xAxisIndex:s.panel*2, yAxisIndex:s.panel*2,
  showSymbol:false, symbol:'none', lineStyle:{color:s.color, width:s.width}, color:s.color
}));

const legend = seriesDefs.map(s => ({
  data:[{name:s.name, icon:'rect', itemStyle:{color:s.color, borderColor:s.color, borderWidth:0}}],
  right:51, top:s.legendY - 9, padding:0, align:'right',
  icon:'rect', itemWidth:60, itemHeight:2, selectedMode:false,
  itemStyle:{color:s.color, borderColor:s.color, borderWidth:0},
  lineStyle:{color:s.color},
  textStyle:{color:'#000', fontFamily:FONT, fontSize:FS, padding:[0,10,0,0]}
}));

const chart = echarts.init(document.getElementById('c'), null, {renderer:'canvas'});
chart.setOption({animation:false, backgroundColor:'#fff', grid, xAxis, yAxis, series, legend});
</script></body></html>
